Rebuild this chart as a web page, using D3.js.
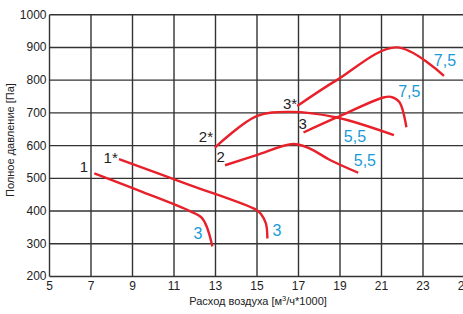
<!DOCTYPE html>
<html>
<head>
<meta charset="utf-8">
<script src="https://cdn.jsdelivr.net/npm/d3@7"></script>
<style>
  body { margin: 0; background: #fff; }
  svg text { font-family: "Liberation Sans Narrow", "Arial Narrow", "Liberation Sans", Arial, sans-serif; }
</style>
</head>
<body>
<div id="chart"></div>
<script>
// Axis ticks
const xTicks = [5, 7, 9, 11, 13, 15, 17, 19, 21, 23, 25];
const yTicks = [200, 300, 400, 500, 600, 700, 800, 900, 1000];

// Fan curves (air flow in 1000 m3/h, pressure in Pa)
const curve1X = [7.16, 9.5, 11.77, 12.33, 12.58, 12.85];
const curve1Y = [515, 458, 400, 380, 352, 292];

const curve1sX = [8.35, 11.7, 14.98, 15.2, 15.43, 15.5];
const curve1sY = [559, 481, 403, 390, 362, 316];

const curve2X = [13.46, 14.98, 16.75, 17.55, 18.52, 19.88];
const curve2Y = [540, 571, 605, 591, 556, 517];

const curve2sX = [12.97, 14.98, 16.59, 18.84, 21.6];
const curve2sY = [594, 690, 703, 686, 632];

const curve3X = [17.24, 18.84, 21.09, 21.45, 21.85, 22.2];
const curve3Y = [640, 686, 747, 749, 734, 656];

const curve3sX = [16.94, 18.84, 21.73, 24.01];
const curve3sY = [721, 800, 900, 813];

// Curve labels: [x, y, text]
const nameLabels = [
    [6.66, 519, "1"], [7.95, 546, "1*"],
    [12.54, 611, "2*"], [13.25, 550, "2"],
    [16.59, 712, "3*"], [17.2, 652, "3"]
];
const speedLabels = [
    [12.16, 316, "3"], [15.96, 323, "3"],
    [19.72, 611, "5,5"], [20.2, 537, "5,5"],
    [22.34, 747, "7,5"], [24.06, 843, "7,5"]
];

let margin = {top: 14.7, right: 0, bottom: 37.5, left: 49.5};
let width = 415, height = 261.8;

let svg = d3.select("#chart").append("svg")
    .attr("width", 463)
    .attr("height", 314)
    .append("g")
    .attr("transform", "translate(" + margin.left + "," + margin.top + ")");

let x = d3.scaleLinear().domain([5, 25]).range([0, width]);
let y = d3.scaleLinear().domain([200, 1000]).range([height, 0]);

// Grid
svg.append("g").selectAll("line.v")
    .data(xTicks)
    .enter().append("line")
    .attr("x1", d => x(d)).attr("x2", d => x(d))
    .attr("y1", 0).attr("y2", height)
    .attr("stroke", "#333").attr("stroke-width", 1.4);

svg.append("g").selectAll("line.h")
    .data(yTicks)
    .enter().append("line")
    .attr("x1", 0).attr("x2", width)
    .attr("y1", d => y(d)).attr("y2", d => y(d))
    .attr("stroke", "#333").attr("stroke-width", 1.4);

// Tick labels
svg.append("g").selectAll("text")
    .data(yTicks)
    .enter().append("text")
    .attr("x", -3).attr("y", d => y(d) + 4)
    .attr("text-anchor", "end")
    .attr("font-size", 12)
    .attr("fill", "#222")
    .text(d => d);

svg.append("g").selectAll("text")
    .data(xTicks)
    .enter().append("text")
    .attr("x", d => x(d)).attr("y", height + 14)
    .attr("text-anchor", "middle")
    .attr("font-size", 12)
    .attr("fill", "#222")
    .text(d => d);

// Axis titles
let xt = svg.append("text")
    .attr("x", x(15.05)).attr("y", height + 28.5)
    .attr("text-anchor", "middle")
    .attr("font-size", 11)
    .attr("fill", "#222");
xt.append("tspan").text("Расход воздуха [м");
xt.append("tspan").attr("dy", -4).attr("font-size", 7.5).text("3");
xt.append("tspan").attr("dy", 4).text("/ч*1000]");

svg.append("text")
    .attr("transform", "translate(-36," + y(617) + ") rotate(-90)")
    .attr("text-anchor", "middle")
    .attr("font-size", 11)
    .attr("fill", "#222")
    .text("Полное давление [Па]");

// Curves
let line = d3.line()
    .x(d => x(d[0]))
    .y(d => y(d[1]))
    .curve(d3.curveCatmullRom.alpha(0.5));

let curves = [
    [curve1X, curve1Y], [curve1sX, curve1sY],
    [curve2X, curve2Y], [curve2sX, curve2sY],
    [curve3X, curve3Y], [curve3sX, curve3sY]
];

curves.forEach(function (c) {
    svg.append("path")
        .datum(c[0].map((v, i) => [v, c[1][i]]))
        .attr("fill", "none")
        .attr("stroke", "#e8202a")
        .attr("stroke-width", 2.4)
        .attr("d", line);
});

// Labels
svg.append("g").selectAll("text")
    .data(nameLabels)
    .enter().append("text")
    .attr("x", d => x(d[0])).attr("y", d => y(d[1]))
    .attr("text-anchor", "middle")
    .attr("font-size", 15)
    .attr("fill", "#222")
    .text(d => d[2]);

svg.append("g").selectAll("text")
    .data(speedLabels)
    .enter().append("text")
    .attr("x", d => x(d[0])).attr("y", d => y(d[1]))
    .attr("text-anchor", "middle")
    .attr("font-size", 16)
    .attr("fill", "#1a9ad8")
    .text(d => d[2]);
</script>
</body>
</html>
